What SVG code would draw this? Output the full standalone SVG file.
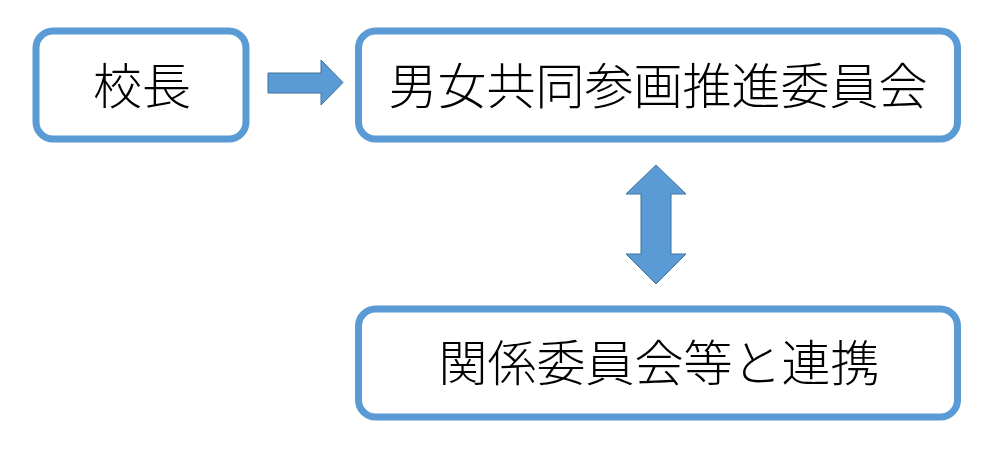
<svg xmlns="http://www.w3.org/2000/svg" width="1000" height="450" viewBox="0 0 1000 450">
  <style>
    .box { fill: #ffffff; stroke: #5B9BD5; stroke-width: 7; }
    .lbl { font-family: "Noto Sans CJK JP", "Noto Sans CJK SC", sans-serif; font-size: 49px; font-weight: 300; fill: #000000; text-anchor: middle; }
    .arrow { fill: #5B9BD5; stroke: #41719C; stroke-width: 1; stroke-linejoin: miter; }
  </style>
  <rect width="1000" height="450" fill="#ffffff"/>
  <g id="node-principal">
    <rect class="box" x="36" y="31" width="210" height="108" rx="17"/>
    <text class="lbl" x="142" y="103.5">校長</text>
  </g>
  <g id="node-committee">
    <rect class="box" x="358.5" y="31" width="599" height="108" rx="17"/>
    <text class="lbl" x="658" y="103.5">男女共同参画推進委員会</text>
  </g>
  <g id="node-related">
    <rect class="box" x="358.5" y="309" width="599" height="108" rx="17"/>
    <text class="lbl" x="659" y="380.5">関係委員会等と連携</text>
  </g>
  <g id="connectors">
    <path class="arrow" d="M268,73 L321,73 L321,60 L343,82.5 L321,105 L321,93 L268,93 Z"/>
    <path class="arrow" d="M656,165 L686,194 L671,194 L671,254 L686,254 L656,284 L626,254 L641,254 L641,194 L626,194 Z"/>
  </g>
</svg>
